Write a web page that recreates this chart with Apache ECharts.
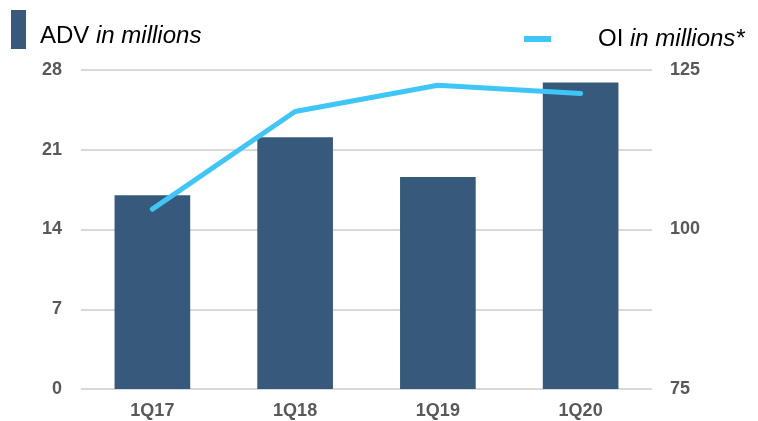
<!DOCTYPE html>
<html>
<head>
<meta charset="utf-8">
<script src="https://cdn.jsdelivr.net/npm/echarts@6/dist/echarts.min.js"></script>
<style>
  html, body { margin: 0; padding: 0; background: #fff; }
  #chart { width: 758px; height: 421px; }
</style>
</head>
<body>
<div id="chart"></div>
<script>
const quarters = ['1Q17', '1Q18', '1Q19', '1Q20']
const advValues = [17, 22.1, 18.6, 26.9] // ADV in millions
const oiValues = [103.2, 118.5, 122.6, 121.3] // OI in millions
const leftTicks = [0, 28, 7]
const rightTicks = [75, 125, 25]

const chart = echarts.init(document.getElementById('chart'))
const font = '"Liberation Sans", Arial, sans-serif'
const labelStyle = { color: '#595959', fontWeight: 'bold', fontSize: 18, fontFamily: font }

chart.setOption({
  animation: false,
  legend: [
    {
      data: ['ADV'],
      left: 11,
      top: 10,
      padding: 0,
      icon: 'rect',
      itemWidth: 15,
      itemHeight: 39,
      formatter: () => '{a|ADV }{b|in millions}',
      textStyle: {
        fontFamily: font,
        padding: [14, 0, 0, 0],
        rich: {
          a: { fontSize: 24, color: '#000', fontFamily: font, padding: [0, 0, 0, 9] },
          b: { fontSize: 24, color: '#000', fontStyle: 'italic', fontFamily: font }
        }
      }
    },
    {
      data: ['OI'],
      left: 524,
      top: 27,
      padding: 0,
      icon: 'rect',
      itemWidth: 27,
      itemHeight: 6,
      formatter: () => '{a|OI }{b|in millions*}',
      textStyle: {
        fontFamily: font,
        rich: {
          a: { fontSize: 24, color: '#000', fontFamily: font, padding: [0, 0, 0, 42] },
          b: { fontSize: 24, color: '#000', fontStyle: 'italic', fontFamily: font }
        }
      }
    }
  ],
  grid: { left: 81, right: 106, top: 70, bottom: 32 },
  xAxis: {
    type: 'category',
    data: quarters,
    axisLine: { show: false },
    axisTick: { show: false },
    axisLabel: { ...labelStyle, margin: 13 }
  },
  yAxis: [
    {
      type: 'value',
      min: leftTicks[0],
      max: leftTicks[1],
      interval: leftTicks[2],
      axisLabel: { ...labelStyle, margin: 19 },
      splitLine: { lineStyle: { color: '#d9d9d9', width: 2 } }
    },
    {
      type: 'value',
      min: rightTicks[0],
      max: rightTicks[1],
      interval: rightTicks[2],
      axisLabel: { ...labelStyle, margin: 18 },
      splitLine: { show: false }
    }
  ],
  series: [
    {
      name: 'ADV',
      type: 'bar',
      data: advValues,
      barWidth: '53%',
      itemStyle: { color: '#375a7c' }
    },
    {
      name: 'OI',
      type: 'line',
      yAxisIndex: 1,
      data: oiValues,
      showSymbol: false,
      symbol: 'none',
      itemStyle: { color: '#3ec6f8' },
      lineStyle: { color: '#3ec6f8', width: 5, cap: 'round', join: 'round' }
    }
  ]
})
</script>
</body>
</html>
